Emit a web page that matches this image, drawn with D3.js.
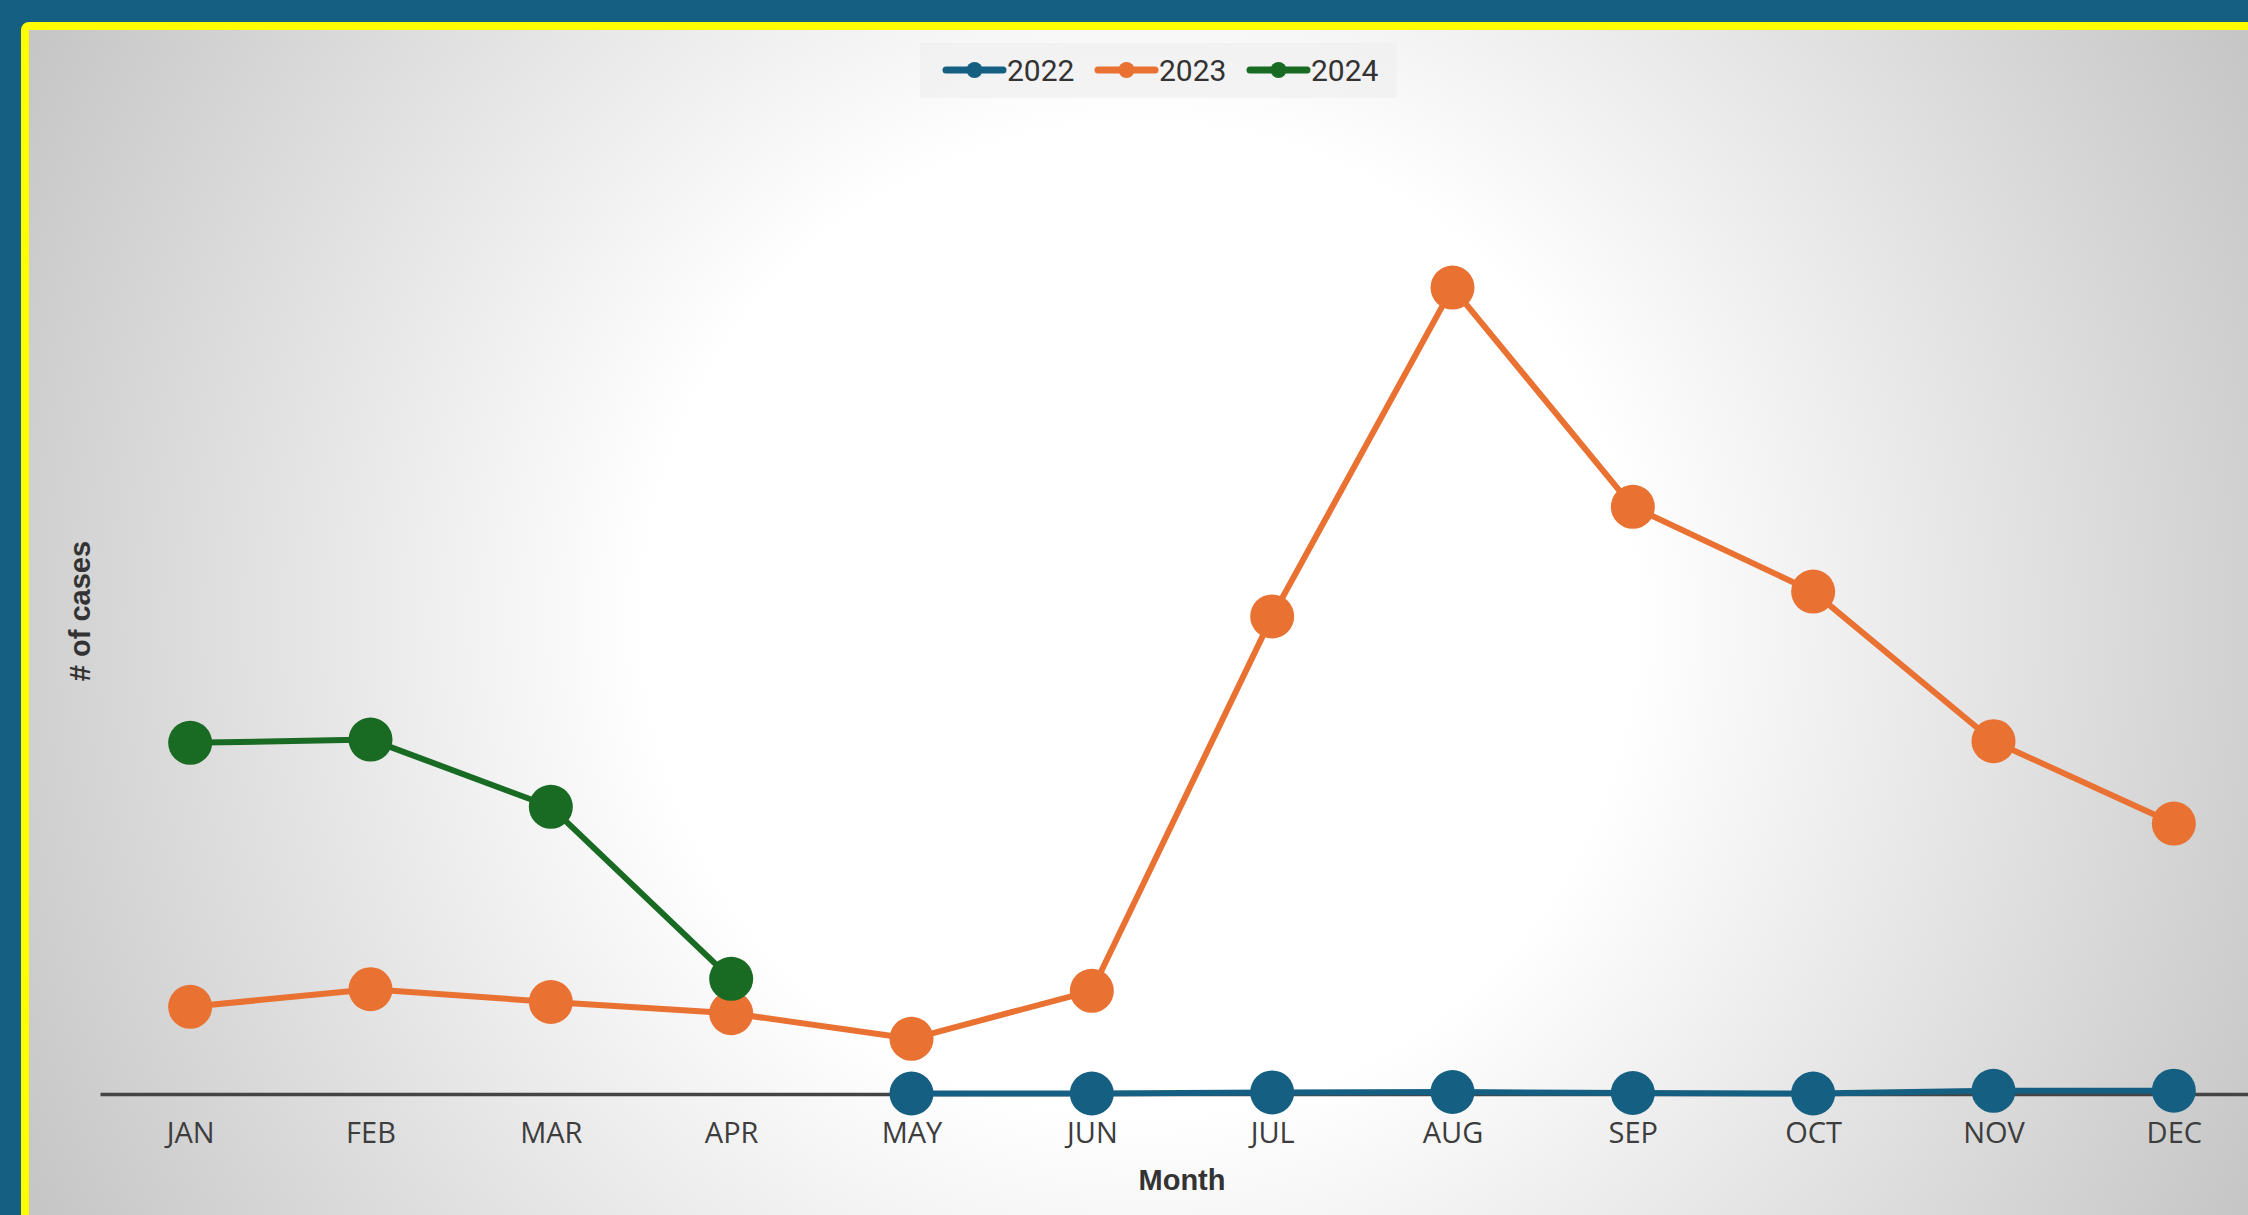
<!DOCTYPE html>
<html>
<head>
<meta charset="utf-8">
<script src="https://cdn.jsdelivr.net/npm/d3@7"></script>
<style>
  html, body { margin: 0; padding: 0; background: #156082; overflow: hidden; }
  svg { display: block; }
</style>
</head>
<body>
<script>
// ---- data ----
const months = ["JAN","FEB","MAR","APR","MAY","JUN","JUL","AUG","SEP","OCT","NOV","DEC"];
const seriesNames = ["2022","2023","2024"];
const values2022 = [null, null, null, null, 0.06, 0.06, 0.2, 0.25, 0.12, 0.06, 0.4, 0.42];
const values2023 = [10.9, 13.1, 11.5, 10.1, 6.9, 12.9, 59.7, 100.8, 73.4, 62.8, 44.1, 33.8];
const values2024 = [43.9, 44.3, 35.9, 14.4, null, null, null, null, null, null, null, null];
const xTitle = "Month";
const yTitle = "# of cases";

// ---- styles ----
const colors = { "2022": "#156082", "2023": "#E97132", "2024": "#196B24" };

const W = 2248, H = 1215;
const svg = d3.select("body").append("svg").attr("width", W).attr("height", H);

const defs = svg.append("defs");
const grad = defs.append("radialGradient")
  .attr("id", "bg").attr("gradientUnits", "userSpaceOnUse")
  .attr("cx", 1140).attr("cy", 620).attr("r", 1300);
grad.append("stop").attr("offset", 0).attr("stop-color", "#ffffff");
grad.append("stop").attr("offset", 0.38).attr("stop-color", "#ffffff");
grad.append("stop").attr("offset", 1).attr("stop-color", "#c2c2c2");

// container with yellow border
svg.append("rect")
  .attr("x", 25).attr("y", 26).attr("width", 2400).attr("height", 1300)
  .attr("rx", 4)
  .attr("fill", "url(#bg)")
  .attr("stroke", "#ffff00").attr("stroke-width", 8);

// scales
const x = d3.scalePoint().domain(months).range([100, 2264]).padding(0.5);
const y = d3.scaleLinear().domain([0, 125]).range([1094, 94]);

// x axis
const axisG = svg.append("g").attr("transform", `translate(0,${y(0)})`)
  .call(d3.axisBottom(x).tickSize(0).tickSizeOuter(0));
axisG.select(".domain").attr("stroke", "#444").attr("stroke-width", 3.5);
axisG.selectAll(".tick text")
  .attr("y", 49).attr("dy", 0)
  .attr("fill", "#3d3d3d")
  .style("font-family", "'Open Sans', sans-serif")
  .style("font-size", "29px");

// axis titles
svg.append("text")
  .attr("x", (x.range()[0] + x.range()[1]) / 2).attr("y", 1190)
  .attr("text-anchor", "middle")
  .attr("fill", "#333")
  .style("font-family", "'Liberation Sans', Arial, sans-serif")
  .style("font-weight", "bold").style("font-size", "29px")
  .text(xTitle);

svg.append("text")
  .attr("transform", `translate(90,611) rotate(-90)`)
  .attr("text-anchor", "middle")
  .attr("fill", "#333")
  .style("font-family", "'Liberation Sans', Arial, sans-serif")
  .style("font-weight", "bold").style("font-size", "29px")
  .text(yTitle);

// series
const allSeries = [
  { name: "2022", values: values2022 },
  { name: "2023", values: values2023 },
  { name: "2024", values: values2024 }
];

const line = d3.line()
  .defined(d => d.v != null)
  .x(d => x(d.m))
  .y(d => y(d.v));

allSeries.forEach(s => {
  const pts = months.map((m, i) => ({ m, v: s.values[i] }));
  const g = svg.append("g");
  g.append("path")
    .datum(pts)
    .attr("d", line)
    .attr("fill", "none")
    .attr("stroke", colors[s.name])
    .attr("stroke-width", 6)
    .attr("stroke-linejoin", "round");
  g.selectAll("circle")
    .data(pts.filter(d => d.v != null))
    .join("circle")
    .attr("cx", d => x(d.m))
    .attr("cy", d => y(d.v))
    .attr("r", 22)
    .attr("fill", colors[s.name]);
});

// legend
const legend = svg.append("g");
legend.append("rect")
  .attr("x", 920).attr("y", 43).attr("width", 477).attr("height", 55)
  .attr("fill", "#efefef").attr("opacity", 0.7);
seriesNames.forEach((name, i) => {
  const gx = 946 + i * 152, gy = 70;
  const it = legend.append("g").attr("transform", `translate(${gx},${gy})`);
  it.append("line").attr("x1", 0).attr("x2", 57).attr("y1", 0).attr("y2", 0)
    .attr("stroke", colors[name]).attr("stroke-width", 7).attr("stroke-linecap", "round");
  it.append("circle").attr("cx", 28.5).attr("cy", 0).attr("r", 8).attr("fill", colors[name]);
  it.append("text").attr("x", 61).attr("y", 0).attr("dy", "0.36em")
    .attr("fill", "#333")
    .style("font-family", "Roboto, sans-serif").style("font-size", "30px")
    .text(name);
});
</script>
</body>
</html>
